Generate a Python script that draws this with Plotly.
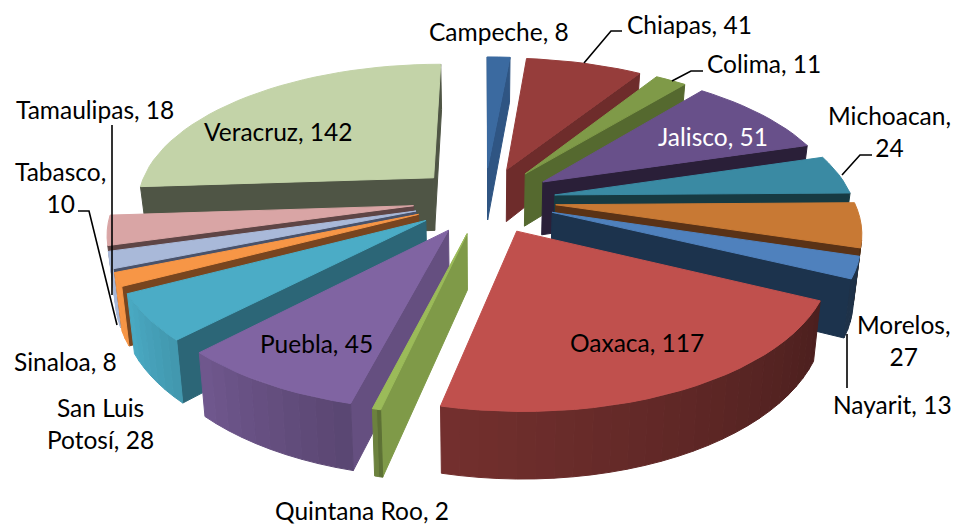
import math
import plotly.graph_objects as go

# ---- data ----
states = ["Campeche", "Chiapas", "Colima", "Jalisco", "Michoacan", "Morelos", "Nayarit", "Oaxaca",
          "Quintana Roo", "Puebla", "San Luis Potosí", "Sinaloa", "Tabasco", "Tamaulipas", "Veracruz"]
values = [8, 41, 11, 51, 24, 27, 13, 117, 2, 45, 28, 8, 10, 18, 142]

# ---- styles ----
top_colors = ["#3b6aa0", "#963d3b", "#7f9a48", "#68508a", "#3a8aa3", "#c87934", "#4f81bd", "#c0504d",
              "#9bbb59", "#8064a2", "#4bacc6", "#f79646", "#a9b9d9", "#d9a5a5", "#c3d3a8"]
side_colors = ["#2f5583", "#6e2c2b", "#55692f", "#2a1f38", "#173a42", "#5a3216", "#1c334d", "#6e2c2b",
               "#7f9a48", "#654f80", "#2c6677", "#78451f", "#49526a", "#5e4545", "#4f5545"]
label_text = ["Campeche, 8", "Chiapas, 41", "Colima, 11", "Jalisco, 51", "Michoacan,<br>24", "Morelos,<br>27",
              "Nayarit, 13", "Oaxaca, 117", "Quintana Roo, 2", "Puebla, 45", "San Luis<br>Potosí, 28",
              "Sinaloa, 8", "Tabasco,<br>10", "Tamaulipas, 18", "Veracruz, 142"]
label_x = [499, 689, 764, 713, 889, 903, 892, 637, 362, 316, 100, 65, 60, 95, 278]
label_y = [31, 24, 63, 136, 131, 340, 404, 342, 510, 343, 423, 361, 187, 109, 131]
label_color = ["#000000"] * 15
label_color[3] = "#ffffff"
leaders = [[(584, 63), (611, 31), (622, 31)],
           [(672, 81), (691, 71), (703, 71)],
           [(842, 175), (860, 155), (872, 155)],
           [(847, 334), (847, 388)],
           [(112, 125), (112, 295)],
           [(78, 211), (89, 211), (117, 325)]]

CX, CY, A, B, K, E, H, BX = 484.5, 200, 298, 139, 0.165, 0.24, 54, 0.98


def project(x, y, bottom):
    s = 1 / (1 + K * y)
    fx = BX if bottom else 1
    return CX + A * x * s * fx, CY - B * y * s + (H * s if bottom else 0)


def shade(hex_color, f):
    r, g, b = [int(hex_color[i:i + 2], 16) for i in (1, 3, 5)]
    return "rgb(%d,%d,%d)" % (r * f, g * f, b * f)


def area(poly):
    return sum(poly[i][0] * poly[(i + 1) % len(poly)][1] - poly[(i + 1) % len(poly)][0] * poly[i][1]
               for i in range(len(poly)))


def wall_factor(deg):
    if deg <= 193.5:
        return max(0.38, 0.38 + (deg - 110) * 0.0027)
    return min(1.0, 0.7 + (deg - 194) * 0.006)


fig = go.Figure()


def add_poly(poly, color):
    xs = [p[0] for p in poly] + [poly[0][0]]
    ys = [p[1] for p in poly] + [poly[0][1]]
    fig.add_trace(go.Scatter(x=xs, y=ys, mode="lines", fill="toself", fillcolor=color,
                             line=dict(color=color, width=1), hoverinfo="skip", showlegend=False))


total = sum(values)
slices = []
acc = 0
for i, v in enumerate(values):
    slices.append((i, acc / total * 360, (acc + v) / total * 360))
    acc += v
slices.sort(key=lambda t: -math.cos(math.radians((t[1] + t[2]) / 2)))

for i, a0, a1 in slices:
    mid = math.radians((a0 + a1) / 2)
    ox, oy = E * math.sin(mid), E * math.cos(mid)

    def rim(deg):
        r = math.radians(deg)
        return ox + math.sin(r), oy + math.cos(r)

    n = max(2, int((a1 - a0) / 3) + 1)
    angles = [a0 + (a1 - a0) * j / n for j in range(n + 1)]

    # radial faces
    for deg, sign in ((a0, -1), (a1, 1)):
        p = rim(deg)
        face = [project(ox, oy, False), project(*p, False), project(*p, True), project(ox, oy, True)]
        if area(face) * sign > 0:
            add_poly(face, side_colors[i])
    # outer wall, one strip per step for the shading
    for d0, d1 in zip(angles[:-1], angles[1:]):
        p0, p1 = rim(d0), rim(d1)
        strip = [project(*p0, False), project(*p1, False), project(*p1, True), project(*p0, True)]
        if area(strip) < 0:
            add_poly(strip, shade(top_colors[i], wall_factor((d0 + d1) / 2)))
    # top face
    add_poly([project(ox, oy, False)] + [project(*rim(d), False) for d in angles], top_colors[i])

for pts in leaders:
    fig.add_trace(go.Scatter(x=[p[0] for p in pts], y=[p[1] for p in pts], mode="lines",
                             line=dict(color="#000000", width=1.6), hoverinfo="skip", showlegend=False))

for t, x, y, c in zip(label_text, label_x, label_y, label_color):
    fig.add_annotation(x=x, y=y, text=t, showarrow=False, xanchor="center", yanchor="middle",
                       font=dict(family="Lato", size=24.5, color=c), align="center")

fig.update_layout(width=955, height=525, margin=dict(l=0, r=0, t=0, b=0),
                  paper_bgcolor="white", plot_bgcolor="white", showlegend=False,
                  xaxis=dict(range=[0, 955], visible=False, fixedrange=True),
                  yaxis=dict(range=[525, 0], visible=False, fixedrange=True))
fig.write_html("out.html", config={"displayModeBar": False},
               post_script="document.body.style.margin='0';document.documentElement.style.overflow='hidden';")
